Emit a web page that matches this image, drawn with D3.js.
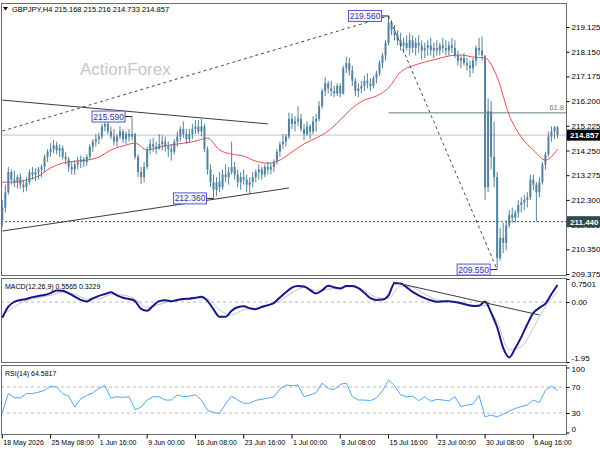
<!DOCTYPE html>
<html>
<head>
<meta charset="utf-8">
<script src="https://cdn.jsdelivr.net/npm/d3@7"></script>
<style>
  body { margin: 0; background: #fff; }
  svg { display: block; font-family: "Liberation Sans", Arial, sans-serif; }
</style>
</head>
<body>
<script>
// GBPJPY H4 - each entry below is one 8h step
const firstOpen = 211.5;
const highs = [
  212.3,212.9,213.6,213.5,213.45,213.3,213.35,213.1,213.2,213.5,
  213.6,213.55,213.6,213.7,214.1,214.3,214.55,214.66,214.6,214.5,
  214.45,214.2,214.0,213.8,213.85,214.0,214.05,214.0,214.1,214.5,
  214.7,214.9,214.95,215.3,215.5,215.45,215.2,215.1,214.9,215.2,
  215.1,215.0,215.1,215.59,214.95,214.1,213.6,213.8,214.4,214.7,
  214.75,214.6,214.9,214.85,214.8,214.6,214.5,214.7,215.0,215.2,
  215.4,215.1,215.1,215.3,215.45,215.45,215.5,215.3,214.4,213.7,
  213.3,213.2,213.4,213.5,213.7,213.6,214.6,213.8,213.5,213.4,
  213.5,213.3,213.2,213.4,213.5,213.7,213.6,213.7,213.8,213.75,
  213.9,214.3,214.6,214.9,214.9,215.75,215.7,215.6,216.0,215.7,
  215.3,215.4,215.3,215.6,215.7,216.2,216.7,217.15,217.0,217.0,
  216.8,216.9,216.9,217.6,217.95,217.9,217.6,217.1,216.9,217.0,
  217.2,217.3,217.1,217.2,217.4,217.8,218.1,218.6,219.56,219.4,
  219.2,219.0,218.9,218.7,218.8,218.9,218.8,218.7,218.8,218.6,
  218.5,218.6,218.7,218.5,218.6,218.5,218.7,218.6,218.55,218.7,
  218.6,218.2,218.0,218.1,217.9,217.8,217.9,218.4,218.7,218.75,
  218.0,216.3,216.2,215.4,213.4,211.2,211.4,211.5,211.9,212.0,
  211.9,212.3,212.4,212.5,212.6,213.3,213.3,213.0,213.2,213.8,
  214.2,215.0,215.2,215.22,215.216
];
const lows = [
  211.25,211.8,212.5,212.9,212.8,212.75,212.75,212.6,212.65,212.9,
  213.1,213.05,213.1,213.2,213.4,213.8,214.0,214.15,214.1,214.0,
  213.9,213.7,213.4,213.3,213.28,213.5,213.55,213.6,213.65,213.9,
  214.2,214.4,214.5,214.7,215.0,214.9,214.7,214.45,214.4,214.7,
  214.55,214.5,214.6,214.65,213.9,213.2,212.93,213.0,213.5,214.1,
  214.2,214.1,214.3,214.25,214.2,214.0,213.85,214.1,214.4,214.6,
  214.75,214.5,214.55,214.7,214.9,214.9,214.8,214.2,213.3,212.8,
  212.36,212.45,212.6,212.7,213.0,212.9,213.3,213.1,212.8,212.7,
  212.9,212.6,212.55,212.8,213.0,213.1,213.1,213.2,213.3,213.3,
  213.4,213.7,214.0,214.3,214.4,214.7,215.1,215.0,215.2,215.0,
  214.66,214.8,214.7,214.9,215.0,215.4,215.9,216.4,216.5,216.4,
  216.35,216.4,216.35,216.45,217.3,217.2,216.8,216.4,216.35,216.5,
  216.6,216.7,216.6,216.7,216.9,217.2,217.5,217.8,218.4,218.8,
  218.6,218.4,218.2,218.1,218.2,218.0,218.1,218.0,218.1,217.85,
  217.9,218.0,218.0,217.9,218.0,218.0,218.1,218.0,218.0,218.1,
  217.9,217.6,217.5,217.6,217.4,217.15,217.3,217.6,218.0,217.8,
  212.3,212.6,213.5,212.8,209.55,209.9,210.2,210.3,211.2,211.4,
  211.4,211.6,211.8,211.9,212.0,212.3,212.7,211.44,212.4,212.9,
  213.5,214.0,214.6,214.7,214.733
];
const closes = [
  212.0,212.6,213.4,213.1,213.0,213.2,212.9,212.8,213.0,213.4,
  213.3,213.4,213.5,213.6,214.0,214.2,214.3,214.45,214.25,214.35,
  214.0,213.9,213.6,213.5,213.7,213.8,213.9,213.8,214.0,214.4,
  214.6,214.7,214.8,215.2,215.3,215.0,214.8,214.6,214.8,215.0,
  214.7,214.9,214.8,214.9,214.0,213.4,213.2,213.6,214.3,214.5,
  214.4,214.3,214.5,214.6,214.4,214.3,214.2,214.6,214.8,215.1,
  214.9,214.7,214.9,215.1,215.2,215.0,215.2,214.3,213.5,213.0,
  212.7,213.0,212.8,213.3,213.2,213.4,213.6,213.3,213.0,213.2,
  213.1,212.9,213.0,213.2,213.4,213.5,213.3,213.6,213.5,213.6,
  213.8,214.2,214.5,214.6,214.8,215.5,215.3,215.4,215.5,215.1,
  214.9,215.2,215.0,215.4,215.5,216.0,216.6,216.9,216.7,216.6,
  216.5,216.8,216.5,217.5,217.7,217.4,217.0,216.6,216.7,216.8,
  217.0,216.9,216.8,217.1,217.3,217.7,218.0,218.5,219.3,219.0,
  218.8,218.6,218.4,218.5,218.3,218.6,218.3,218.5,218.4,218.2,
  218.3,218.4,218.2,218.3,218.2,218.4,218.3,218.2,218.4,218.3,
  218.0,217.8,217.9,217.7,217.6,217.5,217.8,218.3,218.2,218.0,
  212.8,215.8,214.0,213.2,210.0,210.8,210.6,211.3,211.7,211.6,
  211.8,212.1,212.2,212.3,212.4,213.1,212.9,212.6,213.0,213.7,
  214.1,214.8,215.0,215.168,214.857
];

// red moving average, one value every 4 steps
const maValues = [
  213.0,213.0,213.08,213.24,213.56,213.75,213.83,213.87,213.99,214.27,
  214.43,214.54,214.27,214.39,214.47,214.54,214.62,214.74,214.27,214.11,
  214.03,213.83,213.75,213.87,214.19,214.51,214.74,215.02,215.45,215.93,
  216.24,216.4,216.72,217.35,217.59,217.74,217.86,217.98,218.02,217.94,
  217.9,217.15,215.65,214.78,214.27,213.87,214.3
];

// MACD(12,26,9): main every 2 steps, signal every 4 steps
const macdMain = [
  -0.51,-0.15,0.01,0.07,0.1,0.16,0.2,0.23,0.29,0.38,
  0.37,0.28,0.18,0.07,0.02,0.12,0.2,0.26,0.32,0.22,
  0.14,0.1,0.03,-0.22,-0.28,-0.12,0.03,0.06,0.03,0.07,
  0.1,0.11,0.14,0.17,0.04,-0.24,-0.48,-0.48,-0.28,-0.17,
  -0.14,-0.2,-0.23,-0.16,-0.1,-0.03,0.15,0.32,0.47,0.52,
  0.51,0.39,0.28,0.38,0.53,0.48,0.44,0.52,0.52,0.45,
  0.3,0.13,0.07,0.08,0.22,0.61,0.6,0.48,0.33,0.22,
  0.13,0.06,0.01,0.02,0.03,0.0,-0.04,-0.09,-0.13,-0.12,
  0.02,-0.35,-0.82,-1.49,-1.8,-1.5,-1.14,-0.72,-0.35,-0.19,
  -0.05,0.26,0.5565
];
const macdSignal = [
  -0.45,-0.15,0.05,0.14,0.22,0.32,0.25,0.1,0.1,0.24,
  0.23,0.1,-0.18,-0.08,0.03,0.07,0.11,0.1,-0.25,-0.42,
  -0.25,-0.2,-0.13,0.04,0.3,0.48,0.38,0.42,0.47,0.5,
  0.38,0.15,0.12,0.52,0.48,0.25,0.08,0.02,-0.02,-0.1,
  -0.1,-0.65,-1.55,-1.45,-0.85,-0.15,0.3229
];

// RSI(14), every 2 steps
const rsiValues = [
  30.5,60,54,53,60,60,62,65,71,70,
  60,56,39,52,57,61,68,72,53,55,
  54,55,35,39,50,55,55,50,50,58,
  55,56,58,50,34,31,29,44,56,50,
  45,45,49.5,51,53,55,67,73,72,73,
  55,58,61,76,68,66,74,76,55,50,
  50,49,53,64,81,72,58,55,56,49,
  55,48,51,50,48.5,55,40,42,44,57,
  24,27,24,28,33,37,40,42.5,50,46,
  65,71,64.58
];

const priceTicks = [219.125,218.150,217.175,216.200,215.225,214.250,213.275,212.300,211.325,210.350,209.375];
const macdTicks = [0.7501, 0, -1.95];
const macdTickText = ["0.7501", "0.00", "-1.95"];
const rsiTicks = [100, 70, 30, 0];
const timeTickBars = [0,16,32,48,64,80,96,112,128,144,160,176];
const timeLabels = ["18 May 2026","25 May 08:00","1 Jun 16:00","9 Jun 00:00","16 Jun 08:00","23 Jun 16:00",
                    "1 Jul 00:00","8 Jul 08:00","15 Jul 16:00","23 Jul 00:00","30 Jul 08:00","6 Aug 16:00"];

// drawn objects, in (bar, price)
const upperTrend = [[0, 216.24], [88, 215.3]];
const lowerTrend = [[0, 211.07], [95, 212.77]];
const rallyDots = [[0, 215.02], [128, 219.56]];
const dropDots = [[128, 219.56], [164, 209.55]];
const swings = [[43, 215.59], [70, 212.36], [128, 219.56], [164, 209.55]];
const swingText = ["215.590", "212.360", "219.560", "209.550"];
const fibLevel = 215.736;
const supportLevel = 211.44;
const lastPrice = 214.857;
const macdTrend = [[129.5, 0.65], [178, -0.42]];

// layout
const w = 600, h = 450;
const left = 1, right = 566;
const main = { top: 3, bottom: 275 };
const macdP = { top: 278, bottom: 362 };
const rsiP = { top: 365, bottom: 434 };
const candleColor = "#54839f";

const svg = d3.select("body").append("svg").attr("width", w).attr("height", h);

const x = d3.scaleLinear().domain([0, highs.length - 1]).range([2.3, 557.5]);
const yPrice = d3.scaleLinear().domain([209.375, 219.125]).range([274, 27]);
const yMacd = d3.scaleLinear().domain([-1.95, 0.7501]).range([362, 279]);
const yRsi = d3.scaleLinear().domain([0, 100]).range([432.5, 367.5]);

// clip paths for each panel
const defs = svg.append("defs");
[["clipMain", main], ["clipMacd", macdP], ["clipRsi", rsiP]].forEach(([id, p]) => {
  defs.append("clipPath").attr("id", id).append("rect")
    .attr("x", left).attr("y", p.top).attr("width", right - left).attr("height", p.bottom - p.top);
});

// ---------- main panel ----------
const gMain = svg.append("g").attr("clip-path", "url(#clipMain)");

gMain.append("text")
  .attr("x", 80).attr("y", 75)
  .attr("font-size", 17).attr("fill", "#c6c6c6")
  .text("ActionForex");

// last price line and support level
gMain.append("line")
  .attr("x1", left).attr("x2", right)
  .attr("y1", yPrice(lastPrice)).attr("y2", yPrice(lastPrice))
  .attr("stroke", "#c4c4c4");
gMain.append("line")
  .attr("x1", left).attr("x2", right)
  .attr("y1", yPrice(supportLevel)).attr("y2", yPrice(supportLevel))
  .attr("stroke", "#3a5050").attr("stroke-dasharray", "2,2");

// moving average
const maLine = d3.line().x((d, k) => x(k * 4)).y(d => yPrice(d)).curve(d3.curveMonotoneX);
gMain.append("path").datum(maValues)
  .attr("d", maLine).attr("fill", "none").attr("stroke", "#f24a4a").attr("stroke-width", 1);

// candles
const bars = highs.map((hi, i) => ({
  i, hi, lo: lows[i], c: closes[i], o: i ? closes[i - 1] : firstOpen
}));
gMain.selectAll("line.wick").data(bars).enter().append("line")
  .attr("class", "wick")
  .attr("x1", d => x(d.i)).attr("x2", d => x(d.i))
  .attr("y1", d => yPrice(d.hi)).attr("y2", d => yPrice(d.lo))
  .attr("stroke", candleColor).attr("stroke-width", 1);
gMain.selectAll("rect.body").data(bars).enter().append("rect")
  .attr("class", "body")
  .attr("x", d => x(d.i) - 1)
  .attr("y", d => yPrice(Math.max(d.o, d.c)))
  .attr("width", 2)
  .attr("height", d => Math.max(1, Math.abs(yPrice(d.o) - yPrice(d.c))))
  .attr("fill", candleColor);

// trendlines
const segment = (pts, dash, color) => gMain.append("line")
  .attr("x1", x(pts[0][0])).attr("y1", yPrice(pts[0][1]))
  .attr("x2", x(pts[1][0])).attr("y2", yPrice(pts[1][1]))
  .attr("stroke", color).attr("stroke-width", 1)
  .attr("stroke-dasharray", dash);
segment(upperTrend, null, "#3c3c3c");
segment(lowerTrend, null, "#3c3c3c");
segment(rallyDots, "3,3", "#4a4a4a");
segment(dropDots, "3,3", "#4a4a4a");

// fibonacci 61.8
gMain.append("line")
  .attr("x1", x(128)).attr("x2", right)
  .attr("y1", yPrice(fibLevel)).attr("y2", yPrice(fibLevel))
  .attr("stroke", "#62808c");
gMain.append("text")
  .attr("x", right - 2).attr("y", yPrice(fibLevel) - 3)
  .attr("text-anchor", "end").attr("font-size", 7.5).attr("fill", "#708090")
  .text("61.8");

// swing high/low price tags
swings.forEach(([bar, price], k) => {
  const bx = x(bar), by = yPrice(price);
  gMain.append("line")
    .attr("x1", bx - 7).attr("x2", bx).attr("y1", by).attr("y2", by)
    .attr("stroke", "#202020");
  gMain.append("rect")
    .attr("x", bx - 40).attr("y", by - 5.5).attr("width", 33).attr("height", 11)
    .attr("fill", "#f4f4ff").attr("stroke", "#5a5ad0").attr("stroke-width", 1);
  gMain.append("text")
    .attr("x", bx - 23.5).attr("y", by + 3)
    .attr("text-anchor", "middle").attr("font-size", 8.5).attr("fill", "#3a3aa0")
    .text(swingText[k]);
});

// header
svg.append("path").attr("d", "M3,7 L8,7 L5.5,10.5 Z").attr("fill", "#000");
svg.append("text").attr("x", 12).attr("y", 12)
  .attr("font-size", 7.5).attr("fill", "#000")
  .text("GBPJPY,H4  215.168 215.216 214.733 214.857");

// ---------- MACD panel ----------
const gMacd = svg.append("g").attr("clip-path", "url(#clipMacd)");
gMacd.append("line")
  .attr("x1", left).attr("x2", right).attr("y1", yMacd(0)).attr("y2", yMacd(0))
  .attr("stroke", "#b8b8b8").attr("stroke-dasharray", "3,3");
gMacd.append("path").datum(macdSignal)
  .attr("d", d3.line().x((d, k) => x(k * 4)).y(d => yMacd(d)).curve(d3.curveMonotoneX))
  .attr("fill", "none").attr("stroke", "#c4c4c4").attr("stroke-width", 1);
gMacd.append("path").datum(macdMain)
  .attr("d", d3.line().x((d, k) => x(k * 2)).y(d => yMacd(d)).curve(d3.curveMonotoneX))
  .attr("fill", "none").attr("stroke", "#16168a").attr("stroke-width", 2);
gMacd.append("line")
  .attr("x1", x(macdTrend[0][0])).attr("y1", yMacd(macdTrend[0][1]))
  .attr("x2", x(macdTrend[1][0])).attr("y2", yMacd(macdTrend[1][1]))
  .attr("stroke", "#3c3c3c");
svg.append("text").attr("x", 5).attr("y", 289)
  .attr("font-size", 7).attr("fill", "#000")
  .text("MACD(12,26,9) 0.5565 0.3229");

// ---------- RSI panel ----------
const gRsi = svg.append("g").attr("clip-path", "url(#clipRsi)");
[70, 30].forEach(v => gRsi.append("line")
  .attr("x1", left).attr("x2", right).attr("y1", yRsi(v)).attr("y2", yRsi(v))
  .attr("stroke", "#b8b8b8").attr("stroke-dasharray", "3,3"));
gRsi.append("path").datum(rsiValues)
  .attr("d", d3.line().x((d, k) => x(k * 2)).y(d => yRsi(d)))
  .attr("fill", "none").attr("stroke", "#4ea6ff").attr("stroke-width", 1);
svg.append("text").attr("x", 5).attr("y", 376)
  .attr("font-size", 7).attr("fill", "#000")
  .text("RSI(14) 64.5817");

// ---------- frames ----------
[main, macdP, rsiP].forEach(p => svg.append("rect")
  .attr("x", left + 0.5).attr("y", p.top + 0.5)
  .attr("width", right - left).attr("height", p.bottom - p.top)
  .attr("fill", "none").attr("stroke", "#6a6a6a"));

// ---------- right axes ----------
const styleAxis = g => {
  g.select(".domain").remove();
  g.selectAll("text").attr("font-size", 8).attr("fill", "#000")
    .attr("font-family", "Liberation Sans, Arial, sans-serif");
  g.selectAll("line").attr("stroke", "#000");
};

svg.append("g").attr("transform", `translate(${right + 0.5},0)`)
  .call(d3.axisRight(yPrice).tickValues(priceTicks).tickFormat(d3.format(".3f")).tickSize(3).tickPadding(2))
  .call(styleAxis);

svg.append("g").attr("transform", `translate(${right + 0.5},0)`)
  .call(d3.axisRight(yMacd).tickValues(macdTicks).tickFormat((d, k) => macdTickText[k]).tickSize(3).tickPadding(2))
  .call(styleAxis)
  .call(g => g.selectAll(".tick text").attr("dy", (d, k) => k === 0 ? "0.95em" : k === 2 ? "-0.2em" : "0.32em"));

svg.append("g").attr("transform", `translate(${right + 0.5},0)`)
  .call(d3.axisRight(yRsi).tickValues(rsiTicks).tickSize(3).tickPadding(2))
  .call(styleAxis)
  .call(g => g.selectAll(".tick text").attr("dy", (d, k) => k === 0 ? "0.55em" : k === 3 ? "-0.1em" : "0.32em"));

// price tags on the axis
const axisTag = (price, fill) => {
  const yy = yPrice(price);
  svg.append("rect").attr("x", right + 1).attr("y", yy - 5.5).attr("width", 33).attr("height", 11).attr("fill", fill);
  svg.append("text").attr("x", right + 4).attr("y", yy + 3)
    .attr("font-size", 8).attr("font-weight", "bold").attr("fill", "#fff")
    .text(d3.format(".3f")(price));
};
axisTag(supportLevel, "#2f4a4a");
axisTag(lastPrice, "#000");

// ---------- time axis ----------
const gTime = svg.append("g").attr("transform", `translate(0,${rsiP.bottom + 0.5})`);
timeTickBars.forEach((b, k) => {
  gTime.append("line").attr("x1", x(b)).attr("x2", x(b)).attr("y1", 0).attr("y2", 4).attr("stroke", "#000");
  gTime.append("text").attr("x", x(b) + 1).attr("y", 10.5)
    .attr("font-size", 7).attr("fill", "#000")
    .text(timeLabels[k]);
});
</script>
</body>
</html>
